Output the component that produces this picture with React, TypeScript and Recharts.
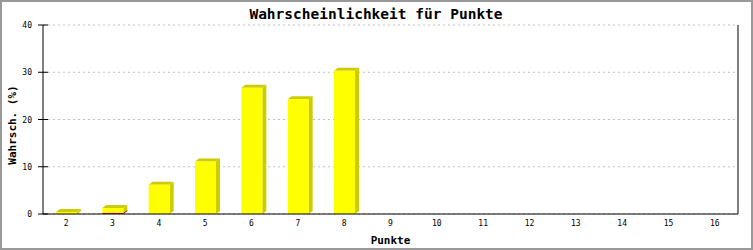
import React from 'react';
import { BarChart, Bar, XAxis, YAxis, CartesianGrid, Customized } from 'recharts';

const categories = ['2', '3', '4', '5', '6', '7', '8', '9', '10', '11', '12', '13', '14', '15', '16'];
const yellowValues = [0.4, 1.0, 6.2, 11.1, 26.7, 24.3, 30.3, 0, 0, 0, 0, 0, 0, 0, 0];
const redValues = [0, 0.25, 0, 0, 0, 0, 0, 0, 0, 0, 0, 0, 0, 0, 0];
const yTicks = [0, 10, 20, 30, 40];

const data = categories.map((c, i) => ({ cat: c, red: redValues[i], yellow: yellowValues[i] }));

const DX = 4;
const DY = 3;
const FONT = '"DejaVu Sans Mono", monospace';

function make3D(front: string, dark: string, withTop: boolean) {
  return (props: any) => {
    const { x, y, width, height } = props;
    if (!height || height <= 0) return <g />;
    const b = y + height;
    return (
      <g>
        {withTop && (
          <polygon
            points={`${x},${y} ${x + DX},${y - DY} ${x + width + DX},${y - DY} ${x + width},${y}`}
            fill={dark}
          />
        )}
        <polygon
          points={`${x + width},${y} ${x + width + DX},${y - DY} ${x + width + DX},${b - DY} ${x + width},${b}`}
          fill={dark}
        />
        <rect x={x} y={y} width={width} height={height} fill={front} />
      </g>
    );
  };
}

const YTick = (props: any) => {
  const { x, y, payload } = props;
  return (
    <g>
      <line x1={x + 5} x2={x + 15} y1={y} y2={y} stroke="#000" strokeWidth={1} />
      <text x={x - 1} y={y + 3} textAnchor="end" fontFamily={FONT} fontSize={8} fill="#000">
        {payload.value}
      </text>
    </g>
  );
};

const XTick = (props: any) => {
  const { x, payload } = props;
  return (
    <text x={x} y={226} textAnchor="middle" fontFamily={FONT} fontSize={8} fill="#000">
      {payload.value}
    </text>
  );
};

const Labels = () => (
  <g>
    <text x={376} y={19} textAnchor="middle" fontFamily={FONT} fontWeight="bold" fontSize={14.5} fill="#000">
      Wahrscheinlichkeit für Punkte
    </text>
    <text x={390.5} y={244} textAnchor="middle" fontFamily={FONT} fontWeight="bold" fontSize={11} fill="#000">
      Punkte
    </text>
    <text
      x={16}
      y={125}
      textAnchor="middle"
      fontFamily={FONT}
      fontWeight="bold"
      fontSize={11}
      fill="#000"
      transform="rotate(-90 16 125)"
    >
      Wahrsch. (%)
    </text>
  </g>
);

export default function App() {
  return (
    <div style={{ position: 'absolute', left: 0, top: 0, width: 753, height: 250, background: '#fff' }}>
      <BarChart
        width={753}
        height={250}
        data={data}
        margin={{ top: 25, right: 0, left: 0, bottom: 0 }}
        barCategoryGap={0}
      >
        <CartesianGrid horizontal vertical={false} stroke="#c0c0c0" strokeDasharray="2 3" />
        <XAxis
          dataKey="cat"
          height={36}
          axisLine={{ stroke: '#000' }}
          tickLine={false}
          tick={<XTick />}
          interval={0}
        />
        <YAxis
          width={43}
          domain={[0, 40]}
          ticks={yTicks}
          axisLine={{ stroke: '#000' }}
          tickLine={false}
          tickSize={5}
          tickMargin={5}
          tick={<YTick />}
          interval={0}
        />
        <YAxis
          yAxisId="r"
          orientation="right"
          width={15}
          domain={[0, 40]}
          tick={false}
          tickLine={false}
          axisLine={{ stroke: '#000' }}
        />
        <Bar dataKey="red" stackId="a" barSize={21} isAnimationActive={false} shape={make3D('#ff0000', '#aa0000', false)} />
        <Bar dataKey="yellow" stackId="a" barSize={21} isAnimationActive={false} shape={make3D('#ffff00', '#cccc00', true)} />
        <Customized component={Labels} />
      </BarChart>
      <div
        style={{
          position: 'absolute',
          left: 0,
          top: 0,
          width: 753,
          height: 250,
          boxSizing: 'border-box',
          border: '2px solid #999',
          pointerEvents: 'none',
        }}
      />
    </div>
  );
}
